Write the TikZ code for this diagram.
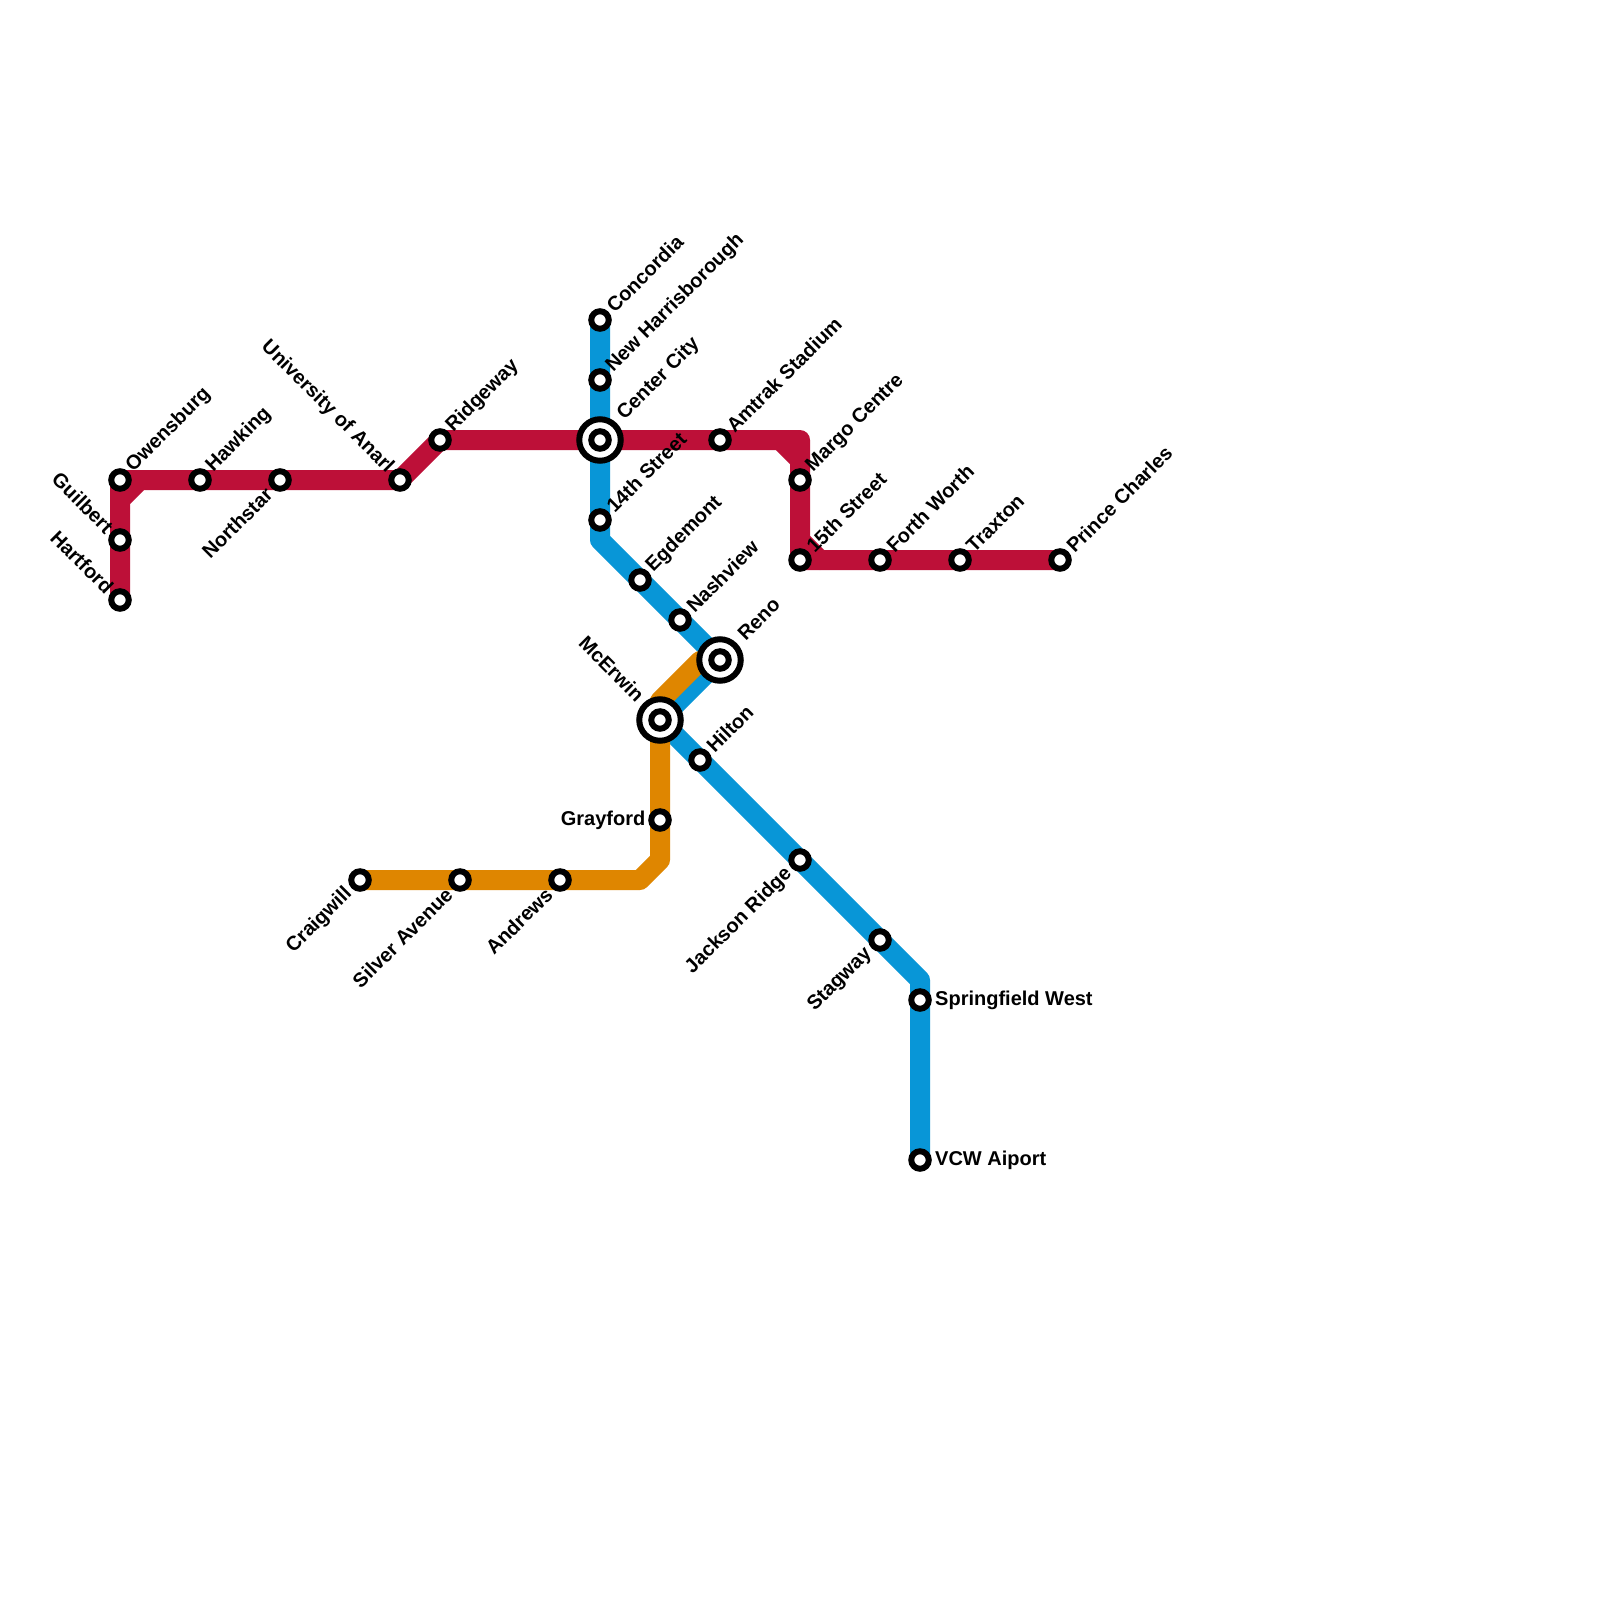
\documentclass[tikz,border=0pt]{standalone}
\usepackage{fontspec}
\setmainfont{Liberation Sans}
\usetikzlibrary{backgrounds}
\definecolor{redline}{HTML}{BD1038}
\definecolor{blueline}{HTML}{0896D7}
\definecolor{orangeline}{HTML}{DF8600}
\tikzset{
  x=1pt,y=-1pt,
  stop/.style={circle,draw=black,fill=white,line width=6pt,minimum size=17.5pt,inner sep=0pt},
  hub/.style={circle,draw=black,fill=white,line width=6pt,minimum size=41.5pt,inner sep=0pt},
  metro/.style={line width=20pt,line join=round,line cap=round},
  lbl/.style={inner sep=0pt,font=\fontsize{20}{24}\selectfont\bfseries,text=black},
  lne/.style={lbl,rotate=45,anchor=west,xshift=14.5pt,yshift=1pt},
  lnehub/.style={lbl,rotate=45,anchor=west,xshift=31pt,yshift=1.5pt},
  lsw/.style={lbl,rotate=45,anchor=east,xshift=-15.5pt,yshift=0pt},
  lnw/.style={lbl,rotate=-45,anchor=east,xshift=-14pt,yshift=0pt},
  lnwhub/.style={lbl,rotate=-45,anchor=east,xshift=-29pt,yshift=2pt},
  le/.style={lbl,anchor=west,xshift=15pt},
  lw/.style={lbl,anchor=east,xshift=-14.5pt},
}
\begin{document}
\begin{tikzpicture}
\useasboundingbox (0,0) rectangle (1600,1600);
% corners
\coordinate (r1) at (120,500);
\coordinate (r2) at (140,480);
\coordinate (r3) at (780,440);
\coordinate (r4) at (800,460);
\coordinate (r5) at (800,440);
\coordinate (r6) at (800,540);
\coordinate (r7) at (820,560);
\coordinate (b1) at (600,540);
\coordinate (b2) at (920,980);
\coordinate (o1) at (700,661);
\coordinate (o2) at (660,701);
\coordinate (o3) at (660,860);
\coordinate (o4) at (640,880);
% stations
\node[stop] (owensburg) at (120,480) {};
\node[stop] (hawking) at (200,480) {};
\node[stop] (northstar) at (280,480) {};
\node[stop] (anarl) at (400,480) {};
\node[stop] (ridgeway) at (440,440) {};
\node[stop] (guilbert) at (120,540) {};
\node[stop] (hartford) at (120,600) {};
\node[stop] (amtrak) at (720,440) {};
\node[stop] (margo) at (800,480) {};
\node[stop] (fifteenth) at (800,560) {};
\node[stop] (forth) at (880,560) {};
\node[stop] (traxton) at (960,560) {};
\node[stop] (prince) at (1060,560) {};
\node[stop] (concordia) at (600,320) {};
\node[stop] (newh) at (600,380) {};
\node[hub] (center) at (600,440) {};
\node[stop] (centerin) at (600,440) {};
\node[stop] (fourteenth) at (600,520) {};
\node[stop] (egdemont) at (640,580) {};
\node[stop] (nashview) at (680,620) {};
\node[hub] (reno) at (720,660) {};
\node[stop] (renoin) at (720,660) {};
\node[hub] (mcerwin) at (660,720) {};
\node[stop] (mcerwinin) at (660,720) {};
\node[stop] (hilton) at (700,760) {};
\node[stop] (jackson) at (800,860) {};
\node[stop] (stagway) at (880,940) {};
\node[stop] (springfield) at (920,1000) {};
\node[stop] (vcw) at (920,1160) {};
\node[stop] (grayford) at (660,820) {};
\node[stop] (andrews) at (560,880) {};
\node[stop] (silver) at (460,880) {};
\node[stop] (craigwill) at (360,880) {};
% lines
\begin{scope}[on background layer]
\fill[white] (0,0) rectangle (1600,1600);
\draw[metro,redline] (hartford.center) -- (r1) -- (r2) -- (anarl.center) -- (ridgeway.center) -- (center.center) -- (r5) -- (fifteenth.center) -- (prince.center);
\draw[metro,redline] (r1) -- (owensburg.center) -- (r2);
\draw[metro,redline] (r3) -- (r4);
\draw[metro,redline] (r6) -- (r7);
\draw[metro,blueline] (concordia.center) -- (b1) -- (reno.center) -- (mcerwin.center) -- (b2) -- (vcw.center);
\draw[metro,orangeline] (o1) -- (o2) -- (o3) -- (o4) -- (craigwill.center);
\end{scope}
% labels
\node[lne] (tOwensburg) at (owensburg) {Owensburg};
\node[lne] (tHawking) at (hawking) {Hawking};
\node[lsw] (tNorthstar) at (northstar) {Northstar};
\node[lnw] (tAnarl) at (anarl) {University of Anarl};
\node[lne] (tRidgeway) at (ridgeway) {Ridgeway};
\node[lnw] (tGuilbert) at (guilbert) {Guilbert};
\node[lnw] (tHartford) at (hartford) {Hartford};
\node[lne] (tAmtrak) at (amtrak) {Amtrak Stadium};
\node[lne] (tMargo) at (margo) {Margo Centre};
\node[lne] (tFifteenth) at (fifteenth) {15th Street};
\node[lne] (tForth) at (forth) {Forth Worth};
\node[lne] (tTraxton) at (traxton) {Traxton};
\node[lne] (tPrince) at (prince) {Prince Charles};
\node[lne] (tConcordia) at (concordia) {Concordia};
\node[lne] (tNewh) at (newh) {New Harrisborough};
\node[lnehub] (tCenter) at (center) {Center City};
\node[lne] (tFourteenth) at (fourteenth) {14th Street};
\node[lne] (tEgdemont) at (egdemont) {Egdemont};
\node[lne] (tNashview) at (nashview) {Nashview};
\node[lnehub] (tReno) at (reno) {Reno};
\node[lnwhub] (tMcerwin) at (mcerwin) {McErwin};
\node[lne] (tHilton) at (hilton) {Hilton};
\node[lsw] (tJackson) at (jackson) {Jackson Ridge};
\node[lsw] (tStagway) at (stagway) {Stagway};
\node[le] (tSpringfield) at (springfield) {Springfield West};
\node[le] (tVcw) at (vcw) {VCW Aiport};
\node[lw] (tGrayford) at (grayford) {Grayford};
\node[lsw] (tAndrews) at (andrews) {Andrews};
\node[lsw] (tSilver) at (silver) {Silver Avenue};
\node[lsw] (tCraigwill) at (craigwill) {Craigwill};
\end{tikzpicture}
\end{document}
